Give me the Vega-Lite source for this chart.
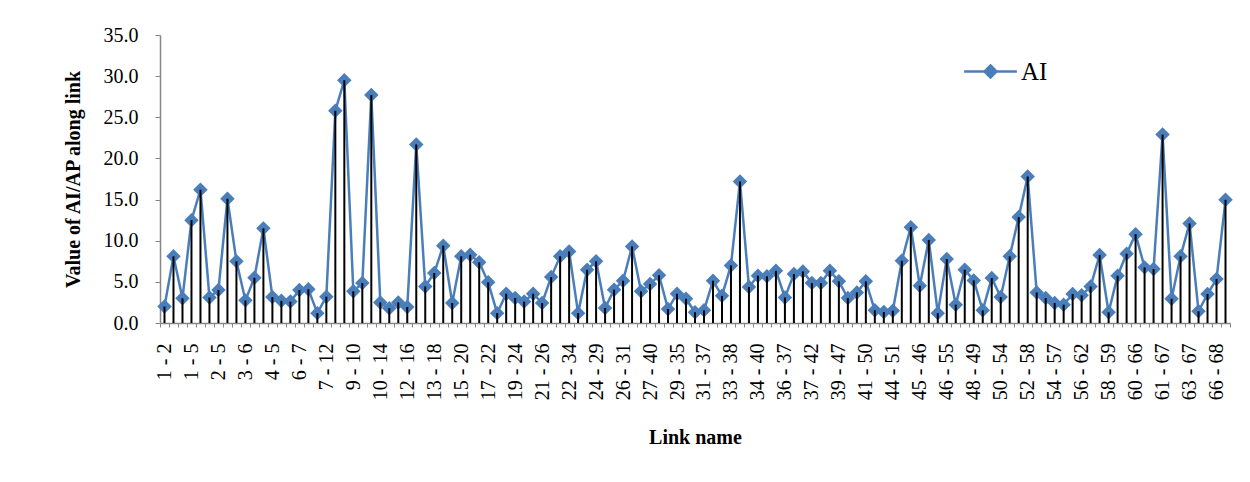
{
  "$schema": "https://vega.github.io/schema/vega-lite/v6.json",
  "autosize": {"type": "none"},
  "width": 1070,
  "height": 288,
  "padding": {"left": 160, "top": 35, "right": 20, "bottom": 159},
  "background": "white",
  "config": {
    "view": {"stroke": null},
    "font": "Liberation Serif",
    "axis": {"labelFont": "Liberation Serif", "titleFont": "Liberation Serif", "labelColor": "black", "titleColor": "black", "domainColor": "#868686", "tickColor": "#868686", "domainWidth": 1.5, "grid": false}
  },
  "data": {"values": [
    {"link": "1 - 2", "AI": 2.0}, {"link": "1 - 3", "AI": 8.1}, {"link": "1 - 4", "AI": 3.0},
    {"link": "1 - 5", "AI": 12.5}, {"link": "2 - 3", "AI": 16.2}, {"link": "2 - 4", "AI": 3.1},
    {"link": "2 - 5", "AI": 4.0}, {"link": "2 - 6", "AI": 15.1}, {"link": "3 - 4", "AI": 7.5},
    {"link": "3 - 6", "AI": 2.75}, {"link": "3 - 24", "AI": 5.5}, {"link": "4 - 14", "AI": 11.5},
    {"link": "4 - 5", "AI": 3.15}, {"link": "5 - 6", "AI": 2.7}, {"link": "5 - 11", "AI": 2.6},
    {"link": "6 - 7", "AI": 4.0}, {"link": "6 - 11", "AI": 4.1}, {"link": "6 - 13", "AI": 1.2},
    {"link": "7 - 12", "AI": 3.2}, {"link": "8 - 9", "AI": 25.8}, {"link": "8 - 30", "AI": 29.5},
    {"link": "9 - 10", "AI": 3.85}, {"link": "10 - 11", "AI": 4.85}, {"link": "10 - 13", "AI": 27.7},
    {"link": "10 - 14", "AI": 2.5}, {"link": "11 - 12", "AI": 1.8}, {"link": "12 - 13", "AI": 2.5},
    {"link": "12 - 16", "AI": 1.95}, {"link": "13 - 14", "AI": 21.7}, {"link": "13 - 15", "AI": 4.45},
    {"link": "13 - 18", "AI": 6.07}, {"link": "14 - 15", "AI": 9.4}, {"link": "15 - 16", "AI": 2.43},
    {"link": "15 - 20", "AI": 8.1}, {"link": "16 - 17", "AI": 8.3}, {"link": "16 - 19", "AI": 7.37},
    {"link": "17 - 22", "AI": 4.94}, {"link": "18 - 19", "AI": 1.2}, {"link": "19 - 20", "AI": 3.56},
    {"link": "19 - 24", "AI": 3.03}, {"link": "20 - 21", "AI": 2.6}, {"link": "21 - 22", "AI": 3.56},
    {"link": "21 - 26", "AI": 2.43}, {"link": "22 - 23", "AI": 5.58}, {"link": "22 - 24", "AI": 8.1},
    {"link": "22 - 34", "AI": 8.7}, {"link": "23 - 24", "AI": 1.2}, {"link": "24 - 25", "AI": 6.47},
    {"link": "24 - 29", "AI": 7.5}, {"link": "25 - 26", "AI": 1.82}, {"link": "26 - 27", "AI": 4.05},
    {"link": "26 - 31", "AI": 5.14}, {"link": "27 - 28", "AI": 9.3}, {"link": "27 - 29", "AI": 3.85},
    {"link": "27 - 40", "AI": 4.73}, {"link": "28 - 29", "AI": 5.8}, {"link": "29 - 30", "AI": 1.7},
    {"link": "29 - 35", "AI": 3.56}, {"link": "30 - 31", "AI": 2.95}, {"link": "31 - 32", "AI": 1.3},
    {"link": "31 - 37", "AI": 1.54}, {"link": "32 - 33", "AI": 5.14}, {"link": "33 - 34", "AI": 3.3},
    {"link": "33 - 38", "AI": 7.0}, {"link": "34 - 35", "AI": 17.2}, {"link": "34 - 36", "AI": 4.37},
    {"link": "34 - 40", "AI": 5.75}, {"link": "35 - 36", "AI": 5.67}, {"link": "35 - 40", "AI": 6.35},
    {"link": "36 - 37", "AI": 3.1}, {"link": "37 - 38", "AI": 5.95}, {"link": "37 - 39", "AI": 6.27},
    {"link": "37 - 42", "AI": 4.85}, {"link": "38 - 39", "AI": 4.85}, {"link": "39 - 40", "AI": 6.35},
    {"link": "39 - 47", "AI": 5.06}, {"link": "40 - 41", "AI": 3.03}, {"link": "41 - 42", "AI": 3.72},
    {"link": "41 - 50", "AI": 5.06}, {"link": "42 - 43", "AI": 1.54}, {"link": "43 - 44", "AI": 1.34},
    {"link": "44 - 51", "AI": 1.5}, {"link": "44 - 45", "AI": 7.57}, {"link": "44 - 47", "AI": 11.65},
    {"link": "45 - 46", "AI": 4.53}, {"link": "45 - 49", "AI": 10.1}, {"link": "46 - 47", "AI": 1.2},
    {"link": "46 - 55", "AI": 7.77}, {"link": "47 - 48", "AI": 2.23}, {"link": "47 - 49", "AI": 6.47},
    {"link": "48 - 49", "AI": 5.18}, {"link": "49 - 50", "AI": 1.54}, {"link": "50 - 51", "AI": 5.46},
    {"link": "50 - 54", "AI": 3.16}, {"link": "51 - 52", "AI": 8.1}, {"link": "52 - 53", "AI": 12.87},
    {"link": "52 - 58", "AI": 17.8}, {"link": "53 - 54", "AI": 3.72}, {"link": "54 - 55", "AI": 3.03},
    {"link": "54 - 57", "AI": 2.43}, {"link": "55 - 56", "AI": 2.23}, {"link": "56 - 57", "AI": 3.52},
    {"link": "56 - 62", "AI": 3.36}, {"link": "57 - 58", "AI": 4.45}, {"link": "57 - 60", "AI": 8.26},
    {"link": "58 - 59", "AI": 1.3}, {"link": "59 - 60", "AI": 5.75}, {"link": "60 - 61", "AI": 8.42},
    {"link": "60 - 66", "AI": 10.8}, {"link": "61 - 62", "AI": 6.76}, {"link": "61 - 63", "AI": 6.56},
    {"link": "61 - 67", "AI": 22.9}, {"link": "62 - 63", "AI": 2.95}, {"link": "63 - 64", "AI": 8.1},
    {"link": "63 - 67", "AI": 12.1}, {"link": "64 - 65", "AI": 1.42}, {"link": "65 - 66", "AI": 3.52},
    {"link": "66 - 68", "AI": 5.34}, {"link": "67 - 68", "AI": 14.97}
  ]},
  "encoding": {
    "x": {
      "field": "link", "type": "nominal", "sort": null,
      "scale": {"type": "band", "paddingInner": 0, "paddingOuter": 0},
      "axis": {
        "title": "Link name", "titleFontSize": 20, "titleFontWeight": "bold", "titlePadding": 28,
        "labelAngle": 270, "labelFontSize": 20, "labelPadding": 16, "tickSize": 4, "tickBand": "extent",
        "labelExpr": "round(datum.index * 118) % 3 == 0 ? datum.label : ''",
        "labelOverlap": false
      }
    },
    "y": {
      "field": "AI", "type": "quantitative",
      "scale": {"domain": [0, 35], "nice": false},
      "axis": {
        "title": "Value of AI/AP along link", "titleFontSize": 20, "titleFontWeight": "bold", "titlePadding": 20,
        "values": [0, 5, 10, 15, 20, 25, 30, 35], "format": ".1f",
        "labelFontSize": 20, "labelPadding": 17, "tickSize": 5
      }
    }
  },
  "layer": [
    {"mark": {"type": "line", "color": "#4a7ebb", "strokeWidth": 2.5}},
    {
      "mark": {"type": "point", "shape": "diamond", "filled": true, "size": 210, "opacity": 1},
      "encoding": {
        "color": {
          "datum": "AI",
          "scale": {"range": ["#4a7ebb"]},
          "legend": {
            "title": null, "orient": "none", "legendX": 818, "legendY": 24, "padding": 0,
            "symbolType": "M-4.4,0L4.4,0M0,-1L1,0L0,1L-1,0Z", "symbolSize": 144,
            "symbolStrokeColor": "#4a7ebb", "symbolStrokeWidth": 2.5, "symbolFillColor": "#4a7ebb",
            "labelFont": "Liberation Serif", "labelFontSize": 25, "labelColor": "black", "labelOffset": 18,
            "encode": {"symbols": {"fill": {"value": "#4a7ebb"}, "stroke": {"value": "#4a7ebb"}, "strokeWidth": {"value": 2.5}, "opacity": {"value": 1}}}
          }
        }
      }
    },
    {
      "mark": {"type": "rule", "color": "black", "strokeWidth": 2},
      "encoding": {"y2": {"datum": 0}}
    }
  ]
}
